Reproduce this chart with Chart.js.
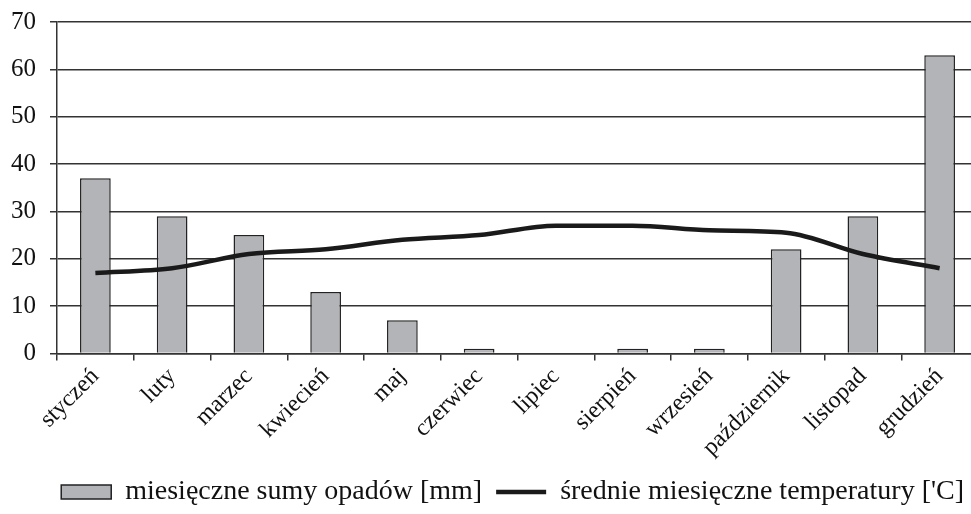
<!DOCTYPE html>
<html>
<head>
<meta charset="utf-8">
<script src="https://cdn.jsdelivr.net/npm/chart.js@4/dist/chart.umd.min.js"></script>
<style>
  html, body { margin: 0; padding: 0; background: #fff; overflow: hidden; }
  #wrap { width: 980px; height: 514px; }
</style>
</head>
<body>
<div id="wrap"><canvas id="climate_chart"></canvas></div>
<script>
// data
var months = ["styczeń", "luty", "marzec", "kwiecień", "maj", "czerwiec", "lipiec", "sierpień", "wrzesień", "październik", "listopad", "grudzień"];
var precipitation = [37, 29, 25, 13, 7, 1, 0, 1, 1, 22, 29, 63];
var temperature = [17, 18, 21, 22, 24, 25, 27, 27, 26, 25.5, 21, 18];
var yTicks = [0, 10, 20, 30, 40, 50, 60, 70];

var serif = "'Liberation Serif', 'Times New Roman', serif";

var c1 = document.getElementById("climate_chart").getContext("2d");

var climate_chart = new Chart(c1, {
    type: "bar",
    data: {
        labels: months,
        datasets: [
            {
                type: "bar",
                label: "miesięczne sumy opadów [mm]",
                data: precipitation,
                backgroundColor: "#b3b4b8",
                borderColor: "#222",
                borderWidth: 1.5,
                barPercentage: 0.4,
                categoryPercentage: 1,
                order: 2
            },
            {
                type: "line",
                label: "średnie miesięczne temperatury ['C]",
                data: temperature,
                borderColor: "#1a1a1a",
                backgroundColor: "#1a1a1a",
                borderWidth: 4.5,
                pointRadius: 0,
                tension: 0.4,
                cubicInterpolationMode: "monotone",
                fill: false,
                order: 1
            }
        ]
    },
    options: {
        responsive: true,
        maintainAspectRatio: false,
        animation: false,
        layout: { padding: { top: 22, right: 2, left: 0, bottom: -2 } },
        scales: {
            y: {
                min: 0,
                max: 70,
                afterBuildTicks: function (scale) {
                    scale.ticks = yTicks.map(function (v) { return { value: v }; });
                },
                afterFit: function (scale) {
                    scale.width = 57;
                    scale.paddingTop = 0;
                },
                grid: { color: "#333", lineWidth: 1.5, tickLength: 7 },
                border: { color: "#333", width: 1.5 },
                ticks: {
                    color: "#111",
                    padding: 14,
                    font: { family: serif, size: 25 }
                }
            },
            x: {
                grid: {
                    offset: true,
                    drawOnChartArea: false,
                    color: "#333",
                    lineWidth: 1.5,
                    tickLength: 7
                },
                border: { color: "#333", width: 1.5 },
                ticks: {
                    color: "#111",
                    maxRotation: 45,
                    minRotation: 45,
                    padding: 2,
                    font: { family: serif, size: 24 }
                }
            }
        },
        plugins: {
            tooltip: { enabled: false },
            legend: {
                display: true,
                position: "bottom",
                align: "end",
                labels: {
                    color: "#111",
                    font: { family: serif, size: 28 },
                    usePointStyle: true,
                    pointStyleWidth: 50,
                    boxHeight: 14,
                    padding: 14,
                    generateLabels: function (chart) {
                        var items = Chart.defaults.plugins.legend.labels.generateLabels(chart);
                        items.sort(function (a, b) { return a.datasetIndex - b.datasetIndex; });
                        items.forEach(function (it) {
                            if (it.datasetIndex === 0) {
                                it.pointStyle = "rect";
                                it.lineWidth = 1.5;
                            } else {
                                it.pointStyle = "line";
                                it.lineWidth = 4.5;
                            }
                        });
                        return items;
                    }
                }
            }
        }
    }
});
</script>
</body>
</html>
